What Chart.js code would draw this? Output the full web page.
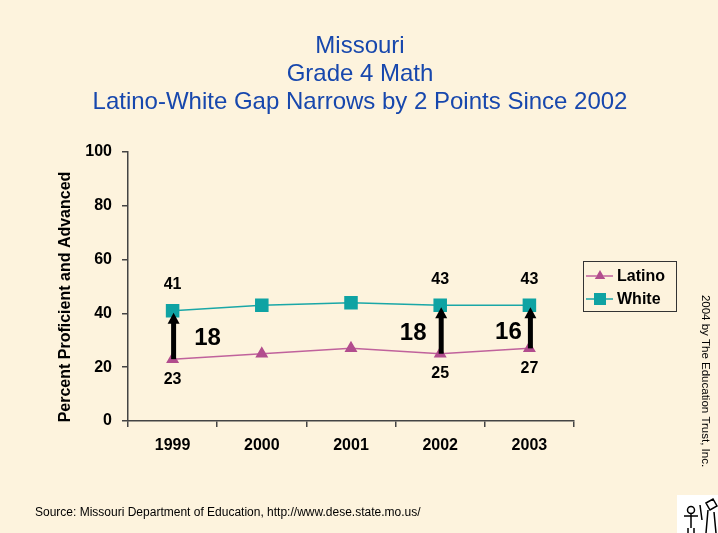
<!DOCTYPE html>
<html>
<head>
<meta charset="utf-8">
<script src="https://cdn.jsdelivr.net/npm/chart.js@4/dist/chart.umd.min.js"></script>
<style>
  html, body { margin: 0; padding: 0; background: #fdf3dd; }
  #wrap { width: 718px; height: 533px; position: relative; }
</style>
</head>
<body>
<div id="wrap"><canvas id="chart" width="718" height="533"></canvas></div>
<script>
const years = ['1999', '2000', '2001', '2002', '2003'];
const latino = [23, 25, 27, 25, 27];
const white = [41, 43, 44, 43, 43];
const yTicks = [0, 20, 40, 60, 80, 100];
// years where the gap arrow and the value labels are shown
const gapYears = ['1999', '2002', '2003'];

const titleLines = ['Missouri', 'Grade 4 Math', 'Latino-White Gap Narrows by 2 Points Since 2002'];
const yTitle = 'Percent Proficient and Advanced';
const sourceText = 'Source: Missouri Department of Education, http://www.dese.state.mo.us/';
const creditText = '2004 by The Education Trust, Inc.';

const FONT = '"Liberation Sans", Arial, sans-serif';

function arrow(ctx, x, y0, y1) {
    ctx.save()
    ctx.strokeStyle = '#000'
    ctx.fillStyle = '#000'
    ctx.lineWidth = 5
    ctx.beginPath()
    ctx.moveTo(x, y0)
    ctx.lineTo(x, y1 + 8)
    ctx.stroke()
    ctx.beginPath()
    ctx.moveTo(x, y1)
    ctx.lineTo(x - 6, y1 + 11)
    ctx.lineTo(x + 6, y1 + 11)
    ctx.closePath()
    ctx.fill()
    ctx.restore()
}

const decor = {
    id: 'decor',
    beforeDraw(chart) {
        const ctx = chart.ctx
        ctx.save()
        ctx.fillStyle = '#fdf3dd'
        ctx.fillRect(0, 0, chart.width, chart.height)

        ctx.fillStyle = '#1747ad'
        ctx.font = '24px ' + FONT
        ctx.textAlign = 'center'
        ctx.textBaseline = 'middle'
        titleLines.forEach((t, i) => ctx.fillText(t, 360, 46 + i * 28))

        ctx.fillStyle = '#000'
        ctx.font = 'bold 16px ' + FONT
        ctx.translate(66, 297)
        ctx.rotate(-Math.PI / 2)
        ctx.fillText(yTitle, 0, 0)
        ctx.restore()

        ctx.save()
        ctx.fillStyle = '#000'
        ctx.font = '12px ' + FONT
        ctx.textAlign = 'left'
        ctx.textBaseline = 'middle'
        ctx.fillText(sourceText, 35, 513)
        ctx.translate(705, 381)
        ctx.rotate(Math.PI / 2)
        ctx.textAlign = 'center'
        ctx.font = '11.5px ' + FONT
        ctx.fillText(creditText, 0, 0)
        ctx.restore()

        // little logo in the corner
        ctx.save()
        ctx.fillStyle = '#fff'
        ctx.fillRect(677, 495, 41, 38)
        ctx.strokeStyle = '#000'
        ctx.lineWidth = 1.5
        ctx.beginPath()
        ctx.arc(691, 510, 3.5, 0, Math.PI * 2)
        ctx.moveTo(691, 514); ctx.lineTo(691, 528)
        ctx.moveTo(684, 516); ctx.lineTo(698, 516)
        ctx.moveTo(688, 528); ctx.lineTo(688, 533)
        ctx.moveTo(694, 528); ctx.lineTo(694, 533)
        ctx.moveTo(706, 503); ctx.lineTo(713, 499); ctx.lineTo(717, 506); ctx.lineTo(710, 510); ctx.closePath()
        ctx.moveTo(708, 510); ctx.lineTo(706, 533)
        ctx.moveTo(700, 505); ctx.lineTo(702, 520)
        ctx.moveTo(714, 512); ctx.lineTo(716, 533)
        ctx.stroke()
        ctx.restore()
    },
    afterDatasetsDraw(chart) {
        const ctx = chart.ctx
        const xs = chart.scales.x, ys = chart.scales.y
        const gapDx = [34, -28, -22]
        const gapDy = [3, 4, 6]
        ctx.save()
        ctx.fillStyle = '#000'
        ctx.textAlign = 'center'
        ctx.textBaseline = 'middle'
        gapYears.forEach((yr, k) => {
            const i = years.indexOf(yr)
            const x = xs.getPixelForValue(i) + 1
            const yl = ys.getPixelForValue(latino[i])
            const yw = ys.getPixelForValue(white[i])
            arrow(ctx, x, yl, yw + 2)
            ctx.font = 'bold 16px ' + FONT
            ctx.fillText(String(white[i]), x - 1, yw - 26)
            ctx.fillText(String(latino[i]), x - 1, yl + 20)
            ctx.font = 'bold 24px ' + FONT
            ctx.fillText(String(white[i] - latino[i]), x + gapDx[k], (yl + yw) / 2 + gapDy[k])
        })
        ctx.restore()

        // legend box
        ctx.save()
        ctx.fillStyle = '#fdf3dd'
        ctx.strokeStyle = '#333'
        ctx.lineWidth = 1
        ctx.fillRect(583.5, 261.5, 93, 50)
        ctx.strokeRect(583.5, 261.5, 93, 50)
        chart.data.datasets.forEach((ds, i) => {
            const y = 276 + i * 23
            ctx.strokeStyle = ds.borderColor
            ctx.lineWidth = 1.5
            ctx.beginPath()
            ctx.moveTo(586, y)
            ctx.lineTo(613, y)
            ctx.stroke()
            Chart.helpers.drawPoint(ctx, {pointStyle: ds.pointStyle, radius: ds.pointRadius, borderWidth: 0}, 600, y)
            ctx.fillStyle = ds.pointBackgroundColor
            ctx.fill()
            ctx.fillStyle = '#000'
            ctx.font = 'bold 16px ' + FONT
            ctx.textAlign = 'left'
            ctx.textBaseline = 'middle'
            ctx.fillText(ds.label, 617, y + 1)
        })
        ctx.restore()
    }
}

new Chart(document.getElementById('chart'), {
    type: 'line',
    data: {
        labels: years,
        datasets: [
            {
                label: 'Latino',
                data: latino,
                borderColor: '#c0629c',
                backgroundColor: '#b24d8e',
                pointBackgroundColor: '#b24d8e',
                pointBorderColor: '#b24d8e',
                pointStyle: 'triangle',
                pointRadius: 6,
                borderWidth: 1.5,
                tension: 0
            },
            {
                label: 'White',
                data: white,
                borderColor: '#1aa7a7',
                backgroundColor: '#0fa3a3',
                pointBackgroundColor: '#0fa3a3',
                pointBorderColor: '#0fa3a3',
                pointStyle: 'rect',
                pointRadius: 8.5,
                borderWidth: 1.5,
                tension: 0
            }
        ]
    },
    options: {
        responsive: false,
        animation: false,
        layout: {padding: {top: 152, right: 144, bottom: 0, left: 0}},
        plugins: {legend: {display: false}, tooltip: {enabled: false}, title: {display: false}},
        scales: {
            x: {
                offset: true,
                afterFit: s => { s.height = 112 },
                grid: {offset: true, drawOnChartArea: false, drawTicks: true, tickLength: 6, color: '#444', lineWidth: 1.5},
                border: {color: '#444', width: 1.5},
                ticks: {color: '#000', font: {family: FONT, size: 16, weight: 'bold'}, padding: 9}
            },
            y: {
                min: 0,
                max: 100,
                afterFit: s => { s.width = 128 },
                afterBuildTicks: s => { s.ticks = yTicks.map(v => ({value: v})) },
                grid: {drawOnChartArea: false, drawTicks: true, tickLength: 6, color: '#444', lineWidth: 1.5},
                border: {color: '#444', width: 1.5},
                ticks: {color: '#000', font: {family: FONT, size: 16, weight: 'bold'}, padding: 10}
            }
        }
    },
    plugins: [decor]
})
</script>
</body>
</html>
